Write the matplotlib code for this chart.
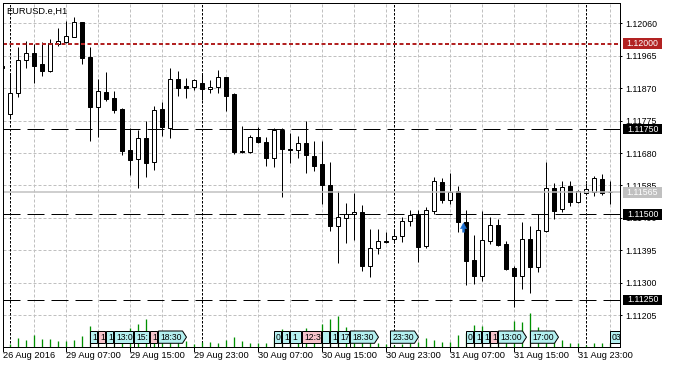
import matplotlib
matplotlib.use('Agg')
import matplotlib.pyplot as plt
from matplotlib.patches import Rectangle, Polygon
from matplotlib.path import Path

plt.rcParams['font.family'] = ['Liberation Sans', 'DejaVu Sans']
plt.rcParams['lines.scale_dashes'] = False

# ---------------- data (H1 bars; index 0 = 29 Aug 2016 00:00, -1 = 26 Aug 23:00) -------------
bar_index = list(range(-1, 76))
opens = [1.11936, 1.11793, 1.11857, 1.11951, 1.11972, 1.11941, 1.11920, 1.12000, 1.12004, 1.12021,
         1.12063, 1.11960, 1.11816, 1.11860, 1.11840, 1.11809, 1.11689, 1.11662, 1.11723, 1.11653,
         1.11809, 1.11753, 1.11896, 1.11877, 1.11872, 1.11884, 1.11867, 1.11872, 1.11902, 1.11853,
         1.11686, 1.11684, 1.11726, 1.11712, 1.11665, 1.11748, 1.11692, 1.11688, 1.11709, 1.11672,
         1.11648, 1.11587, 1.11465, 1.11491, 1.11502, 1.11508, 1.11348, 1.11401, 1.11423, 1.11428,
         1.11438, 1.11480, 1.11499, 1.11409, 1.11511, 1.11595, 1.11541, 1.11569, 1.11477, 1.11367,
         1.11321, 1.11421, 1.11470, 1.11414, 1.11344, 1.11321, 1.11429, 1.11345, 1.11453, 1.11577,
         1.11515, 1.11584, 1.11538, 1.11562, 1.11567, 1.11603, 1.11566]
highs = [1.11940, 1.11911, 1.11990, 1.12008, 1.11998, 1.12004, 1.12013, 1.12045, 1.12067, 1.12078,
         1.12064, 1.11990, 1.11897, 1.11918, 1.11862, 1.11813, 1.11753, 1.11748, 1.11774, 1.11818,
         1.11829, 1.11928, 1.11920, 1.11899, 1.11896, 1.11914, 1.11894, 1.11923, 1.11903, 1.11857,
         1.11759, 1.11733, 1.11755, 1.11728, 1.11753, 1.11753, 1.11738, 1.11730, 1.11774, 1.11715,
         1.11714, 1.11653, 1.11569, 1.11535, 1.11564, 1.11528, 1.11458, 1.11458, 1.11450, 1.11455,
         1.11494, 1.11513, 1.11513, 1.11521, 1.11611, 1.11606, 1.11621, 1.11584, 1.11513, 1.11440,
         1.11509, 1.11494, 1.11487, 1.11423, 1.11349, 1.11479, 1.11467, 1.11502, 1.11655, 1.11592,
         1.11598, 1.11598, 1.11572, 1.11592, 1.11613, 1.11619, 1.11598]
lows = [1.11928, 1.11782, 1.11845, 1.11930, 1.11886, 1.11904, 1.11917, 1.11994, 1.12001, 1.12019,
        1.11942, 1.11714, 1.11728, 1.11831, 1.11796, 1.11674, 1.11616, 1.11577, 1.11611, 1.11629,
        1.11730, 1.11723, 1.11848, 1.11840, 1.11865, 1.11836, 1.11857, 1.11857, 1.11804, 1.11677,
        1.11679, 1.11679, 1.11709, 1.11643, 1.11638, 1.11550, 1.11652, 1.11665, 1.11621, 1.11626,
        1.11530, 1.11453, 1.11359, 1.11418, 1.11426, 1.11335, 1.11318, 1.11384, 1.11416, 1.11416,
        1.11419, 1.11465, 1.11362, 1.11401, 1.11502, 1.11533, 1.11531, 1.11450, 1.11294, 1.11297,
        1.11304, 1.11413, 1.11408, 1.11338, 1.11230, 1.11281, 1.11269, 1.11331, 1.11450, 1.11486,
        1.11507, 1.11526, 1.11535, 1.11560, 1.11555, 1.11557, 1.11530]
closes = [1.11930, 1.11855, 1.11953, 1.11972, 1.11936, 1.11921, 1.12001, 1.12007, 1.12023, 1.12063,
          1.11959, 1.11816, 1.11862, 1.11838, 1.11806, 1.11687, 1.11660, 1.11723, 1.11652, 1.11806,
          1.11755, 1.11896, 1.11869, 1.11871, 1.11893, 1.11867, 1.11873, 1.11902, 1.11848, 1.11682,
          1.11684, 1.11726, 1.11711, 1.11665, 1.11748, 1.11691, 1.11688, 1.11709, 1.11674, 1.11643,
          1.11585, 1.11465, 1.11492, 1.11500, 1.11508, 1.11348, 1.11401, 1.11423, 1.11419, 1.11436,
          1.11480, 1.11498, 1.11406, 1.11513, 1.11598, 1.11541, 1.11565, 1.11477, 1.11365, 1.11321,
          1.11426, 1.11470, 1.11411, 1.11341, 1.11321, 1.11429, 1.11345, 1.11455, 1.11577, 1.11511,
          1.11580, 1.11538, 1.11569, 1.11575, 1.11606, 1.11562, 1.11565]
tick_volumes = [400, 270, 900, 670, 1170, 770, 770, 570, 570, 670,
                1100, 2100, 1400, 1400, 1200, 1200, 1830, 2270, 2770, 1400,
                1200, 1200, 900, 570, 270, 430, 500, 400, 670, 1000,
                570, 330, 400, 400, 1000, 1800, 1200, 1200, 1830, 1200,
                2270, 2730, 3100, 2000, 1400, 1400, 1000, 330, 300, 200,
                270, 330, 500, 900, 670, 450, 500, 1200, 1400, 2170,
                2070, 1400, 1400, 1400, 2570, 2500, 3330, 2000, 1170, 1000,
                670, 330, 330, 200, 330, 330, 400]

price_ticks = [1.12060, 1.11965, 1.11870, 1.11775, 1.11680, 1.11585, 1.11490, 1.11395, 1.11300, 1.11205]
time_tick_pos = [7, 15, 23, 31, 39, 47, 55, 63, 71]
time_tick_labels = ['29 Aug 07:00', '29 Aug 15:00', '29 Aug 23:00', '30 Aug 07:00', '30 Aug 15:00',
                    '30 Aug 23:00', '31 Aug 07:00', '31 Aug 15:00', '31 Aug 23:00']
first_label = '26 Aug 2016'
day_starts = [0, 24, 48, 72]

alert_level = 1.12000
levels = [1.11750, 1.11500, 1.11250]
bid_price = 1.11565
buy_pos, buy_price = 56.6, 1.11464

# economic calendar events: bar position, shown text, kind (c=cyan, p=pink)
ev_pos = [10, 11, 12, 13, 15.5, 17.5, 18.5, 33, 34, 35, 36.5, 39, 40, 41, 42.5, 47.5,
          57, 58, 59, 60, 61, 65, 75]
ev_text = ['1', '1', '1', '13:0', '15:', '1', '18:30', '0', '1', '1', '12:3', '', '1', '17', '18:30', '23:30',
           '0', '1', '1', '1', '13:00', '17:00', '03:00']
ev_kind = ['c', 'p', 'c', 'c', 'c', 'p', 'c', 'c', 'c', 'c', 'p', 'c', 'c', 'c', 'c', 'c',
           'c', 'c', 'c', 'p', 'c', 'c', 'c']

# ---------------- layout ----------------
W, H = 673, 368
PX = 0.72  # points per pixel
fig = plt.figure(figsize=(W / 100, H / 100), dpi=100, facecolor='white')
L, R, T, B = 2.7, 620.3, 2.7, 346.7
ax = fig.add_axes([L / W, 1 - B / H, (R - L) / W, (B - T) / H])
ax.set_facecolor('white')
xlim = ((L - 10) / 8, (R - 10) / 8)
ylim = (1.11113, 1.12120)
ax.set_xlim(*xlim)
ax.set_ylim(*ylim)
for s in ax.spines.values():
    s.set_linewidth(PX)
    s.set_color('black')
    s.set_zorder(20)

GRID = '#c0c0c0'
for p in price_ticks:
    ax.axhline(p, color=GRID, lw=PX, dashes=(3 * PX, 2 * PX), zorder=1)
for k in range(3, 77, 4):
    ax.axvline(k, color=GRID, lw=PX, dashes=(3 * PX, 2 * PX), zorder=1)
for k in day_starts:
    ax.axvline(k, color='black', lw=PX, dashes=(2.5 * PX, 1.5 * PX), zorder=1.5)

# volumes
xtr = ax.get_xaxis_transform()
vol_full = (B - T) * 100.0
for k, v in zip(bar_index, tick_volumes):
    ax.plot([k, k], [0, v / vol_full], transform=xtr, color='#009000', lw=1.3 * PX, zorder=2,
            solid_capstyle='butt')

# candles
bw = 0.45
for k, o, h, l, c in zip(bar_index, opens, highs, lows, closes):
    ax.plot([k, k], [l, h], color='black', lw=PX, zorder=3, solid_capstyle='butt')
    fc = 'white' if c > o else 'black'
    ax.add_patch(Rectangle((k - bw / 2, min(o, c)), bw, abs(c - o), facecolor=fc,
                           edgecolor='black', lw=PX, zorder=3.5))

# level lines (drawn over the chart)
ax.axhline(bid_price, color='#c0c0c0', lw=1.5 * PX, zorder=4)
ax.axhline(alert_level, color='#b22222', lw=2 * PX, dashes=(4 * PX, 2.5 * PX), zorder=4)
for lv in levels:
    ax.axhline(lv, color='black', lw=PX, dashes=(17 * PX, 7 * PX), zorder=4)

# buy arrow
verts = [(0, 1), (-0.65, -0.25), (-0.22, -0.25), (-0.22, -1), (0.22, -1), (0.22, -0.25), (0.65, -0.25), (0, 1)]
codes = [Path.MOVETO] + [Path.LINETO] * 6 + [Path.CLOSEPOLY]
ax.plot([buy_pos], [buy_price], marker=Path(verts, codes), ms=6.8, color='#1f70d0',
        mec='#1f70d0', mew=0.3, zorder=6, ls='none')

# calendar event labels
yb, yt = (B - 343.3) / (B - T), (B - 331) / (B - T)
ym = (yb + yt) / 2
colors = {'c': '#b4f0f0', 'p': '#f6c3cb'}
for i, (p, t, kd) in enumerate(zip(ev_pos, ev_text, ev_kind)):
    x0 = p + 0.06
    nxt = ev_pos[i + 1] if i + 1 < len(ev_pos) else p + 10
    avail = (nxt - p) - 1.2 / 8
    nat = 3.5
    if len(t) >= 5 and avail >= nat and x0 + nat <= xlim[1]:
        w = nat
        pv = [(x0, yb), (x0 + w - 0.5, yb), (x0 + w, ym), (x0 + w - 0.5, yt), (x0, yt)]
    else:
        w = min(avail, xlim[1] - x0)
        pv = [(x0, yb), (x0 + w, yb), (x0 + w, yt), (x0, yt)]
    poly = Polygon(pv, closed=True, transform=xtr, facecolor=colors[kd], edgecolor='black', lw=PX, zorder=7)
    ax.add_patch(poly)
    ax.plot([x0, x0], [0, yb], transform=xtr, color='black', lw=PX, zorder=7)
    tx = ax.text(x0 + 0.2, ym, t, transform=xtr, fontsize=6.2, va='center', ha='left', zorder=8,
                 clip_on=True)
    tx.set_clip_path(poly)

# axes ticks
ax.yaxis.tick_right()
ax.set_yticks(price_ticks)
ax.set_yticklabels(['%.5f' % p for p in price_ticks])
ax.tick_params(axis='y', direction='out', length=2.5 * PX, width=PX, pad=2.0, labelsize=6.3, colors='black')
ax.set_xticks([xlim[0]] + time_tick_pos)
ax.set_xticklabels([first_label] + time_tick_labels)
ax.tick_params(axis='x', direction='out', length=5 * PX, width=PX, pad=-0.2, labelsize=6.7, colors='black')
for lab in ax.get_xticklabels():
    lab.set_ha('left')

# price tags on the right scale
ytr = ax.get_yaxis_transform()
px_per_price = (B - T) / (ylim[1] - ylim[0])
bx0 = (623.3 - L) / (R - L)
bx1 = (661.7 - L) / (R - L)
tag_h = 10.5 / px_per_price
for p, bg in [(alert_level, '#b22222'), (levels[0], 'black'), (levels[1], 'black'),
              (levels[2], 'black'), (bid_price, '#c0c0c0')]:
    ax.add_patch(Rectangle((bx0, p - tag_h / 2), bx1 - bx0, tag_h, transform=ytr, facecolor=bg,
                           edgecolor='none', clip_on=False, zorder=10))
    ax.text((bx0 + bx1) / 2, p, '%.5f' % p, transform=ytr, ha='center', va='center', color='white',
            fontsize=6.3, zorder=11, clip_on=False)

fig.text(6.2 / W, 1 - 13.5 / H, 'EURUSD.e,H1', fontsize=6.7, va='baseline', ha='left', color='black')

fig.savefig('out.png', dpi=100, facecolor='white')
